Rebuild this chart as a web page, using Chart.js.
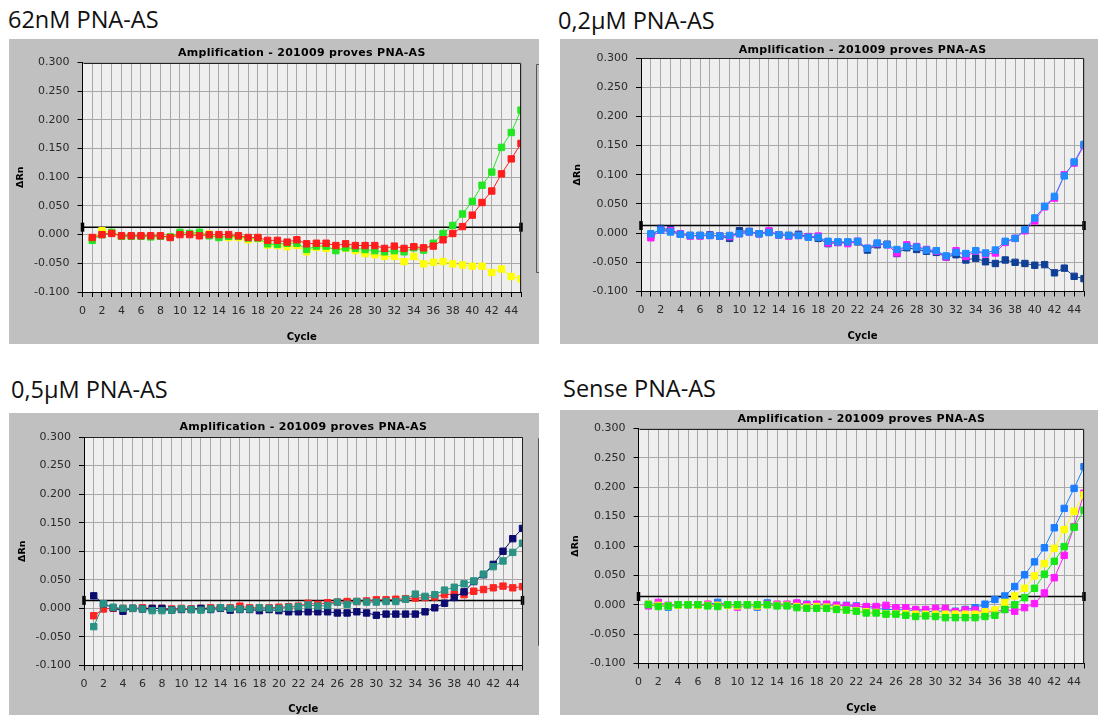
<!DOCTYPE html>
<html>
<head>
<meta charset="utf-8">
<script src="https://cdn.jsdelivr.net/npm/chart.js@4.4.1/dist/chart.umd.min.js"></script>
<style>
    body { margin: 0; background: #fff; width: 1098px; height: 715px; position: relative; overflow: hidden; }
    .panel-title { position: absolute; font-family: "Open Sans", sans-serif; font-size: 23.5px; line-height: 26px; color: #111; white-space: nowrap; }
    canvas { position: absolute; background: #c0c0c0; }
</style>
</head>
<body>
<div class="panel-title" style="left:8px;top:6px">62nM PNA-AS</div>
<div class="panel-title" style="left:558px;top:7px">0,2µM PNA-AS</div>
<div class="panel-title" style="left:11px;top:376px">0,5µM PNA-AS</div>
<div class="panel-title" style="left:563px;top:375px">Sense PNA-AS</div>
<canvas id="chart62nM"></canvas>
<canvas id="chart02uM"></canvas>
<canvas id="chart05uM"></canvas>
<canvas id="chartSense"></canvas>
<script>
// Ciclos del eje X
const cycles = [1, 2, 3, 4, 5, 6, 7, 8, 9, 10, 11, 12, 13, 14, 15, 16, 17, 18, 19, 20,
    21, 22, 23, 24, 25, 26, 27, 28, 29, 30, 31, 32, 33, 34, 35, 36, 37, 38, 39, 40,
    41, 42, 43, 44, 45];
const xTickStep = 1;
const yTickStep = 0.05;
const chartTitle = 'Amplification - 201009 proves PNA-AS';

// 62nM PNA-AS
const red62 = [-0.005, 0.000, 0.002, -0.002, -0.002, -0.002, -0.002, -0.002, -0.005, 0.000,
    0.000, -0.002, 0.000, 0.000, 0.000, -0.002, -0.005, -0.005, -0.010, -0.010,
    -0.013, -0.009, -0.016, -0.015, -0.015, -0.019, -0.016, -0.019, -0.019, -0.019,
    -0.024, -0.020, -0.024, -0.021, -0.023, -0.020, -0.009, 0.002, 0.014, 0.034,
    0.056, 0.076, 0.106, 0.132, 0.159];
const green62 = [-0.010, 0.000, 0.004, -0.003, -0.003, -0.003, -0.004, -0.003, -0.004, 0.004,
    0.002, 0.004, -0.002, -0.005, -0.003, -0.003, -0.006, -0.006, -0.016, -0.017,
    -0.015, -0.015, -0.026, -0.020, -0.020, -0.028, -0.023, -0.024, -0.026, -0.028,
    -0.030, -0.028, -0.030, -0.023, -0.027, -0.015, 0.002, 0.016, 0.036, 0.058,
    0.086, 0.109, 0.152, 0.178, 0.217];
const yellow62 = [-0.008, 0.007, 0.003, -0.003, -0.003, -0.003, -0.003, -0.003, -0.004, 0.001,
    0.001, 0.001, 0.001, -0.003, -0.005, -0.005, -0.009, -0.007, -0.018, -0.019,
    -0.021, -0.019, -0.030, -0.022, -0.024, -0.024, -0.024, -0.028, -0.033, -0.035,
    -0.038, -0.038, -0.047, -0.038, -0.051, -0.048, -0.047, -0.051, -0.053, -0.055,
    -0.055, -0.066, -0.060, -0.073, -0.077];

// 0,2µM PNA-AS
const blue02 = [-0.001, 0.005, 0.002, -0.002, -0.004, -0.004, -0.004, -0.005, -0.004, -0.001,
    0.002, -0.001, 0.001, -0.003, -0.004, -0.004, -0.007, -0.007, -0.014, -0.015,
    -0.015, -0.014, -0.026, -0.017, -0.020, -0.028, -0.023, -0.024, -0.029, -0.030,
    -0.039, -0.033, -0.035, -0.030, -0.034, -0.029, -0.014, -0.009, 0.006, 0.026,
    0.046, 0.063, 0.098, 0.122, 0.152];
const magenta02 = [-0.008, 0.005, 0.004, -0.001, -0.005, -0.005, -0.004, -0.005, -0.006, -0.001,
    0.002, -0.001, 0.004, -0.003, -0.005, -0.004, -0.006, -0.005, -0.017, -0.016,
    -0.018, -0.014, -0.026, -0.018, -0.020, -0.034, -0.020, -0.023, -0.028, -0.031,
    -0.041, -0.030, -0.040, -0.031, -0.036, -0.034, -0.016, -0.009, 0.004, 0.021,
    0.045, 0.060, 0.100, 0.120, 0.150];
const navy02 = [-0.004, 0.008, 0.006, -0.002, -0.004, -0.004, -0.003, -0.005, -0.009, 0.004,
    0.003, -0.001, 0.002, -0.003, -0.004, -0.002, -0.006, -0.009, -0.018, -0.016,
    -0.016, -0.015, -0.029, -0.020, -0.019, -0.035, -0.025, -0.028, -0.031, -0.033,
    -0.041, -0.037, -0.046, -0.043, -0.049, -0.052, -0.046, -0.050, -0.052, -0.055,
    -0.054, -0.068, -0.060, -0.074, -0.078];

// 0,5µM PNA-AS
const teal05 = [-0.032, 0.008, 0.002, 0.000, 0.000, -0.001, -0.004, -0.004, -0.003, -0.001,
    -0.002, -0.003, -0.001, 0.001, 0.000, -0.001, -0.001, 0.001, 0.000, 0.000,
    0.002, 0.003, 0.006, 0.004, 0.005, 0.011, 0.007, 0.012, 0.011, 0.011,
    0.012, 0.012, 0.016, 0.025, 0.021, 0.024, 0.032, 0.037, 0.043, 0.048,
    0.060, 0.073, 0.083, 0.098, 0.114];
const navy05 = [0.022, 0.008, 0.001, -0.005, 0.000, -0.001, 0.000, 0.000, -0.003, -0.002,
    -0.002, 0.000, -0.002, 0.000, -0.003, -0.002, -0.002, -0.004, -0.002, -0.004,
    -0.006, -0.006, -0.006, -0.006, -0.006, -0.008, -0.008, -0.006, -0.008, -0.012,
    -0.010, -0.010, -0.010, -0.010, -0.006, 0.001, 0.009, 0.019, 0.029, 0.047,
    0.059, 0.077, 0.100, 0.122, 0.140];
const red05 = [-0.013, -0.001, 0.000, 0.000, 0.000, 0.001, 0.000, 0.000, -0.001, 0.000,
    -0.001, 0.000, 0.001, 0.001, 0.001, 0.004, 0.001, 0.001, 0.001, 0.002,
    0.003, 0.004, 0.009, 0.007, 0.010, 0.011, 0.012, 0.012, 0.013, 0.015,
    0.015, 0.016, 0.017, 0.018, 0.019, 0.020, 0.024, 0.025, 0.024, 0.030,
    0.033, 0.036, 0.039, 0.036, 0.038];

// Sense PNA-AS
const greenSense = [0.000, -0.003, -0.002, 0.000, 0.000, 0.000, -0.002, -0.003, 0.000, 0.000,
    0.000, 0.000, 0.000, -0.002, -0.002, -0.005, -0.006, -0.006, -0.006, -0.008,
    -0.009, -0.011, -0.014, -0.014, -0.016, -0.016, -0.018, -0.020, -0.019, -0.020,
    -0.022, -0.022, -0.022, -0.022, -0.020, -0.018, -0.008, 0.000, 0.012, 0.028,
    0.052, 0.074, 0.099, 0.132, 0.161];
const yellowSense = [0.001, -0.001, -0.002, -0.001, 0.000, -0.001, -0.001, -0.001, -0.001, -0.002,
    0.000, -0.002, 0.000, -0.001, -0.001, -0.003, -0.004, -0.003, -0.004, -0.006,
    -0.009, -0.010, -0.012, -0.013, -0.015, -0.015, -0.015, -0.016, -0.016, -0.016,
    -0.016, -0.016, -0.016, -0.016, -0.012, -0.009, 0.004, 0.015, 0.028, 0.049,
    0.070, 0.096, 0.128, 0.159, 0.187];
const magentaSense = [-0.002, 0.004, -0.001, 0.000, 0.000, 0.000, 0.001, -0.001, 0.000, -0.004,
    0.000, -0.002, 0.001, 0.001, 0.001, 0.003, 0.000, 0.001, 0.001, -0.001,
    -0.002, -0.003, -0.003, -0.003, -0.001, -0.005, -0.005, -0.008, -0.008, -0.006,
    -0.006, -0.012, -0.009, -0.009, -0.012, -0.012, -0.008, -0.011, -0.005, 0.002,
    0.020, 0.046, 0.084, 0.133, 0.190];
const blueSense = [0.001, 0.001, -0.004, 0.000, 0.000, 0.000, 0.000, 0.004, 0.000, 0.000,
    0.000, -0.004, 0.003, 0.000, 0.000, 0.002, 0.001, 0.000, 0.000, -0.001,
    -0.001, -0.002, -0.005, -0.006, -0.008, -0.008, -0.009, -0.010, -0.011, -0.012,
    -0.010, -0.011, -0.008, -0.005, 0.001, 0.009, 0.015, 0.031, 0.051, 0.073,
    0.097, 0.131, 0.164, 0.198, 0.235];

// Umbral (línea negra horizontal) de cada panel
const thresholds = [0.013, 0.013, 0.014, 0.014];

// Fondo del área, marco, título y borde de la leyenda recortada
const plotFrame = {
    id: 'plotFrame',
    beforeDraw(chart) {
        const { ctx, chartArea: a } = chart;
        ctx.save();
        ctx.fillStyle = '#efefef';
        ctx.fillRect(a.left, a.top, a.right - a.left, a.bottom - a.top);
        ctx.restore();
    },
    afterDraw(chart, args, opts) {
        const { ctx, chartArea: a } = chart;
        ctx.save();
        ctx.strokeStyle = '#222';
        ctx.lineWidth = 1;
        ctx.beginPath();
        ctx.moveTo(Math.round(a.left) + 0.5, Math.round(a.top) + 0.5);
        ctx.lineTo(Math.round(a.right) - 0.5, Math.round(a.top) + 0.5);
        ctx.lineTo(Math.round(a.right) - 0.5, Math.round(a.bottom));
        ctx.stroke();

        ctx.fillStyle = '#000';
        ctx.font = 'bold 11px "DejaVu Sans"';
        ctx.letterSpacing = '0.3px';
        ctx.textAlign = 'center';
        ctx.textBaseline = 'middle';
        ctx.fillText(chartTitle, (a.left + a.right) / 2, a.top - opts.titleGap);
        ctx.letterSpacing = '0px';

        if (opts.bracket) {
            const b = opts.bracket;
            ctx.strokeStyle = '#555';
            ctx.beginPath();
            ctx.moveTo(b.x + 4, b.top + 0.5);
            ctx.lineTo(b.x + 0.5, b.top + 0.5);
            ctx.lineTo(b.x + 0.5, b.bottom + 0.5);
            ctx.lineTo(b.x + 4, b.bottom + 0.5);
            ctx.stroke();
        }
        ctx.restore();
    }
};

function toPoints(values) {
    return values.map((v, i) => ({ x: cycles[i], y: v }));
}

function seriesDataset(values, color) {
    return {
        data: toPoints(values),
        borderColor: color,
        backgroundColor: color,
        borderWidth: 1,
        tension: 0,
        pointStyle: 'rect',
        pointRadius: 4.5,
        pointBorderWidth: 1,
        pointBackgroundColor: color,
        pointBorderColor: color
    };
}

function thresholdDataset(value) {
    return {
        data: [{ x: 0, y: value }, { x: 45, y: value }],
        borderColor: '#000',
        borderWidth: 1.5,
        pointStyle: 'line',
        pointRotation: 90,
        pointRadius: 4.5,
        pointBorderWidth: 3.5,
        pointBorderColor: '#000',
        clip: false
    };
}

// Crea un gráfico de amplificación en su recuadro gris
function createAmplificationChart(id, cfg) {
    const canvas = document.getElementById(id);
    const [bx, by, bw, bh] = cfg.box;
    canvas.width = bw;
    canvas.height = bh;
    canvas.style.left = bx + 'px';
    canvas.style.top = by + 'px';
    canvas.style.width = bw + 'px';
    canvas.style.height = bh + 'px';

    const tickFont = { family: '"DejaVu Sans", sans-serif', size: 11 };
    const gridColor = '#a8a8a8';

    return new Chart(canvas.getContext('2d'), {
        type: 'line',
        data: { datasets: cfg.datasets },
        plugins: [plotFrame],
        options: {
            responsive: false,
            animation: false,
            devicePixelRatio: 1,
            events: [],
            layout: { padding: { left: 0, top: cfg.padTop, right: cfg.padRight, bottom: 0 } },
            scales: {
                x: {
                    type: 'linear',
                    min: 0,
                    max: 45,
                    afterFit: s => { s.height = cfg.xHeight; },
                    border: { display: true, color: '#000', width: 1 },
                    grid: { color: gridColor, lineWidth: 1, tickColor: '#000', tickLength: 5 },
                    ticks: {
                        stepSize: xTickStep,
                        autoSkip: false,
                        maxRotation: 0,
                        minRotation: 0,
                        padding: cfg.xLabelPad,
                        color: '#2a2a2a',
                        font: tickFont,
                        callback: v => (v % 2 === 0 ? String(v) : '')
                    },
                    title: {
                        display: true,
                        text: 'Cycle',
                        color: '#000',
                        font: { family: '"DejaVu Sans"', size: 10, weight: 'bold' },
                        padding: { top: 0, bottom: cfg.xTitlePad }
                    }
                },
                y: {
                    min: -0.1,
                    max: 0.3,
                    afterFit: s => { s.width = cfg.yWidth; },
                    border: { display: true, color: '#000', width: 1 },
                    grid: { color: gridColor, lineWidth: 1, tickColor: '#000', tickLength: 5 },
                    ticks: {
                        stepSize: yTickStep,
                        padding: 8,
                        color: '#2a2a2a',
                        font: tickFont,
                        callback: v => (Math.abs(v) < 1e-9 ? 0 : v).toFixed(3)
                    },
                    title: {
                        display: true,
                        text: 'ΔRn',
                        color: '#000',
                        font: { family: '"DejaVu Sans"', size: 9.5, weight: 'bold' },
                        padding: { top: cfg.yTitlePad, bottom: 0 }
                    }
                }
            },
            plugins: {
                legend: { display: false },
                tooltip: { enabled: false },
                plotFrame: { titleGap: cfg.titleGap, bracket: cfg.bracket }
            }
        }
    });
}

document.addEventListener('DOMContentLoaded', function() {
    createAmplificationChart('chart62nM', {
        box: [9, 39, 530, 305], yWidth: 73.5, padRight: 18, padTop: 23.5, xHeight: 52,
        titleGap: 9.5, yTitlePad: 6.3, xTitlePad: 1, xLabelPad: 8,
        bracket: { x: 527, top: 25, bottom: 233 },
        datasets: [
            seriesDataset(red62, '#ff1c1c'),
            seriesDataset(green62, '#22e622'),
            seriesDataset(yellow62, '#ffff00'),
            thresholdDataset(thresholds[0])
        ]
    });

    createAmplificationChart('chart02uM', {
        box: [560, 39, 538, 305], yWidth: 81, padRight: 14, padTop: 19, xHeight: 52.5,
        titleGap: 8, yTitlePad: 12.3, xTitlePad: 2, xLabelPad: 7.5,
        datasets: [
            seriesDataset(blue02, '#1e8cff'),
            seriesDataset(magenta02, '#ff1aff'),
            seriesDataset(navy02, '#0f3f96'),
            thresholdDataset(thresholds[1])
        ]
    });

    createAmplificationChart('chart05uM', {
        box: [9, 413, 530, 302], yWidth: 75, padRight: 16.5, padTop: 24, xHeight: 49.5,
        titleGap: 10, yTitlePad: 8.3, xTitlePad: 0, xLabelPad: 7,
        bracket: { x: 529, top: 25, bottom: 232 },
        datasets: [
            seriesDataset(teal05, '#2a9284'),
            seriesDataset(navy05, '#0b0b70'),
            seriesDataset(red05, '#ff2424'),
            thresholdDataset(thresholds[2])
        ]
    });

    createAmplificationChart('chartSense', {
        box: [560, 410, 538, 305], yWidth: 78.5, padRight: 14, padTop: 18.5, xHeight: 51.5,
        titleGap: 9.5, yTitlePad: 10.3, xTitlePad: 1, xLabelPad: 7,
        datasets: [
            seriesDataset(greenSense, '#16e616'),
            seriesDataset(yellowSense, '#ffff00'),
            seriesDataset(magentaSense, '#ff1aff'),
            seriesDataset(blueSense, '#1a7cff'),
            thresholdDataset(thresholds[3])
        ]
    });
});
</script>
</body>
</html>
